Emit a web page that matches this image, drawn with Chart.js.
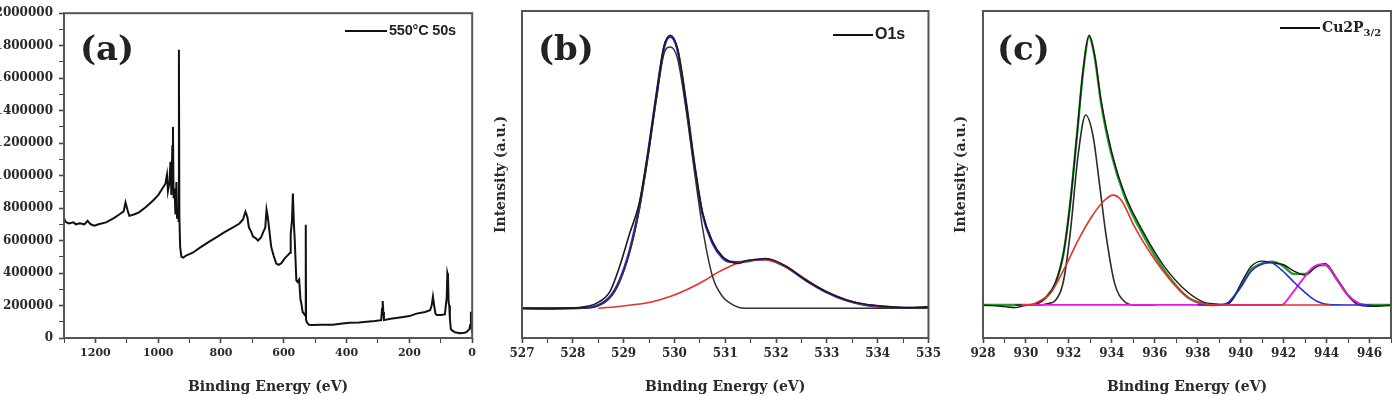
<!DOCTYPE html>
<html>
<head>
<meta charset="utf-8">
<script src="https://cdn.jsdelivr.net/npm/chart.js@4.4.1/dist/chart.umd.min.js"></script>
<style>
body{margin:0;background:#fff;width:1395px;height:396px;overflow:hidden;position:relative}
.panel{position:absolute;top:0;height:396px}
.tag{position:absolute;font:bold 34px 'DejaVu Serif',serif;color:#222;line-height:1}
.leg{position:absolute;font-weight:bold;color:#222;white-space:nowrap;line-height:1}
.leg i{display:inline-block;width:42px;height:2px;background:#111;vertical-align:middle;margin-right:2px}
</style>
</head>
<body>
<div class="panel" style="left:0;width:480px"><canvas id="survey"></canvas></div>
<div class="panel" style="left:480px;width:465px"><canvas id="o1s"></canvas></div>
<div class="panel" style="left:935px;width:460px"><canvas id="cu2p"></canvas></div>

<div class="tag" style="left:80px;top:31px">(a)</div>
<div class="tag" style="left:538px;top:31px">(b)</div>
<div class="tag" style="left:997px;top:31px">(c)</div>

<div class="leg" style="left:345px;top:22px;font:bold 14.5px 'Liberation Sans',sans-serif;letter-spacing:-0.2px"><i></i>550°C 50s</div>
<div class="leg" style="left:833px;top:25px;font:bold 16px 'Liberation Sans',sans-serif"><i style="width:40px"></i>O1s</div>
<div class="leg" style="left:1280px;top:19px;font:bold 14px 'DejaVu Serif',serif"><i style="width:40px"></i>Cu2P<sub style="font-size:10px">3/2</sub></div>

<script>
// (a) survey spectrum, binding energy (eV) vs counts
const surveyE = [1300,1295,1285,1270,1262,1250,1235,1225,1215,1203,1190,1166,1140,1123,1110,1104,1098,1092,1075,1060,1040,1017,1000,985,977,972,969,964,961,958,955,953,951,948,945,942,940,937,935,934,932.5,930,926,920,911,890,868,840,815,790,763,741,730,722,716,711,704,698,690,682,672,666,659,655,651,647,640,632,624,616,608,597,587,580,578,574,571,568,565,560,556,551,547,544,540,536,533,531,530,529,526,520,510,480,443,420,390,360,336,310,290,287,285,283,281,260,230,200,177,150,134,129,125,121,117,113,100,87,81,79,77,75,73,71,68,65,55,39,25,18,9,6,4,2,0];
const surveyI = [740000,715000,705000,712000,700000,706000,700000,722000,700000,692000,700000,712000,740000,762000,780000,835000,790000,752000,762000,775000,805000,845000,880000,925000,950000,1005000,905000,960000,1085000,880000,1180000,1300000,860000,920000,760000,960000,740000,800000,720000,1775000,740000,560000,500000,495000,508000,525000,555000,590000,620000,650000,680000,705000,730000,778000,745000,680000,655000,625000,615000,600000,620000,650000,680000,790000,745000,680000,560000,505000,458000,450000,460000,490000,510000,525000,640000,720000,890000,710000,600000,355000,345000,360000,240000,212000,160000,151000,140000,140000,697000,110000,95000,82000,80000,82000,82000,88000,94000,96000,100000,105000,110000,180000,228000,160000,110000,118000,126000,135000,150000,160000,171000,200000,255000,200000,150000,141000,142000,145000,250000,398000,380000,220000,200000,120000,55000,48000,35000,30000,32000,36000,55000,80000,162000,60000,35000];
const surveyYTicks = [0,200000,400000,600000,800000,1000000,1200000,1400000,1600000,1800000,2000000];

// (b) O1s, intensity in arbitrary units
const oE      = [527.0,527.5,528.0,528.2,528.46,528.73,528.92,529.12,529.31,529.48,529.64,529.8,529.92,530.06,530.23,530.39,530.55,530.75,530.95,531.08,531.27,531.4,531.6,531.8,532.19,532.58,532.97,533.37,533.76,534.15,534.6,535.0];
const oData   = [9.0,8.9,9.2,9.5,10.6,14.2,21.8,32.0,41.4,56.5,73.8,89.5,92.6,88.5,72.0,53.5,38.5,29.5,24.8,23.5,22.8,23.6,24.0,24.3,22.0,17.8,14.3,11.7,10.3,9.7,9.3,9.6];
const oFit    = [9.1,9.1,9.1,9.2,9.8,12.6,17.7,26.9,40.2,56.5,73.8,89.1,92.1,88.1,71.8,53.4,38.1,29.0,24.4,23.3,23.2,23.4,23.9,24.1,21.8,17.7,14.2,11.6,10.1,9.5,9.2,9.2];
const oLatt   = [9.1,9.1,9.1,9.15,9.6,12.2,17.1,26.2,39.3,55.3,72.4,87.2,89.0,85.5,69.7,51.4,34.0,18.8,12.6,10.8,9.3,9.1,9.1,9.1,9.1,9.1,9.1,9.1,9.1,9.1,9.1,9.1];
const oHydE   = [528.5,529.0,529.57,529.9,530.23,530.55,530.88,531.08,531.27,531.5,531.7,532.0,532.4,532.8,533.2,533.6,534.0];
const oHyd    = [9.1,9.8,11.1,12.6,14.7,17.2,20.3,21.8,23.0,23.7,24.0,23.2,19.9,15.7,12.7,10.7,9.6];

// (c) Cu2p3/2, intensity in arbitrary units
const cuE     = [928,928.5,929,929.5,930,930.5,930.9,931.37,931.75,932.06,932.37,932.67,932.94,933.2,933.5,933.97,934.6,935.5,936.43,937.5,938.26,938.8,939.3,939.6,940.0,940.48,941.0,941.48,942.0,942.47,943.0,943.47,943.93,944.5,945.0,945.46,946.0,946.5,947.0];
const cuData  = [10.0,9.9,9.6,9.3,10.0,10.4,12.3,16.8,26.0,41.0,61.8,82.3,92.6,86.5,72.5,57.5,44.0,32.0,22.0,14.2,11.0,10.4,10.2,11.5,16.5,21.8,23.5,23.0,22.4,20.5,19.2,21.5,22.8,18.0,13.0,10.2,9.7,9.8,10.0];
const cuFit   = [10.1,10.1,10.1,10.1,10.1,10.5,12.1,16.7,25.9,41.2,61.6,82.0,92.1,86.0,71.8,56.5,43.2,31.0,20.8,12.6,10.4,10.1,10.2,12.0,15.7,20.8,22.8,23.3,21.9,19.6,19.6,21.9,22.3,17.7,13.1,10.6,10.1,10.1,10.1];
const cuOxE   = [929.5,930.6,931.0,931.37,931.75,932.06,932.44,932.78,933.13,933.44,933.74,934.13,934.6,935.06,936.0];
const cuOx    = [10.1,10.1,10.5,11.5,17.5,32.0,56.5,68.2,61.6,46.3,31.0,16.7,11.1,10.1,10.1];
const cuHydE  = [929.8,930.15,930.6,931.14,931.83,932.44,933.06,933.67,934.05,934.43,935.06,935.8,936.73,937.5,938.2,938.8,944.2];
const cuHyd   = [10.1,10.1,11.2,13.7,21.8,30.0,37.1,42.2,43.7,42.2,34.0,25.9,17.7,12.6,10.6,10.1,10.1];
const satAE   = [938.0,939.0,939.5,940.0,940.5,941.0,941.4,941.9,942.4,942.86,943.3,943.6,944.1,945.0,946.1];
const satA    = [10.1,10.1,11.3,15.5,20.5,22.6,23.0,20.8,17.6,14.7,12.3,11.1,10.2,10.1,10.1];
const satBE   = [929.8,941.9,942.4,942.86,943.32,943.78,944.0,944.5,945.0,945.5,945.8];
const satB    = [10.1,10.1,13.7,17.7,21.3,22.6,22.3,17.7,13.0,10.6,10.1];

const pts = (xs, ys) => xs.map((x, i) => ({x: x, y: ys[i]}));

const frame = {
  id: 'frame',
  afterDatasetsDraw(chart) {
    const {ctx, chartArea: a} = chart;
    ctx.save();
    ctx.strokeStyle = '#555';
    ctx.lineWidth = 2;
    ctx.strokeRect(a.left, a.top, a.right - a.left, a.bottom - a.top);
    ctx.restore();
  }
};

const tickFont = size => ({family: "'DejaVu Serif', serif", weight: 'bold', size: size});
const titleFont = {family: "'DejaVu Serif', serif", weight: 'bold', size: 14};

function line(data, color, width) {
  return {data: data, borderColor: color, borderWidth: width, pointRadius: 0, fill: false,
          cubicInterpolationMode: 'monotone'};
}

function xAxis(min, max, step, labelEvery, fontSize, reverse) {
  return {
    type: 'linear', min: min, max: max, reverse: !!reverse,
    ticks: {stepSize: step, autoSkip: false, maxRotation: 0, color: '#2a2a2a', font: tickFont(fontSize), padding: 4,
            callback: v => (Math.abs(v / labelEvery - Math.round(v / labelEvery)) < 1e-6 ? String(v) : '')},
    grid: {drawOnChartArea: false, drawTicks: true, tickLength: 5, tickColor: '#444',
           tickWidth: c => (c.tick && Math.abs(c.tick.value / labelEvery - Math.round(c.tick.value / labelEvery)) < 1e-6 ? 1.6 : 1)},
    border: {display: false},
    title: {display: true, text: 'Binding Energy (eV)', color: '#2a2a2a', font: titleFont, padding: {top: 0, bottom: 0}},
    afterFit(s) { s.height = 58; }
  };
}

function hiddenY(width, titlePad) {
  return {
    min: 0, max: 100,
    ticks: {display: false},
    grid: {display: false},
    border: {display: false},
    title: {display: true, text: 'Intensity (a.u.)', color: '#2a2a2a', font: titleFont, padding: {top: titlePad, bottom: 0}},
    afterFit(s) { s.width = width; }
  };
}

const common = {
  responsive: true,
  maintainAspectRatio: false,
  animation: false,
  events: [],
  plugins: {legend: {display: false}, tooltip: {enabled: false}}
};

new Chart(document.getElementById('survey'), {
  type: 'line',
  data: {datasets: [{data: pts(surveyE, surveyI), borderColor: '#111', borderWidth: 2, pointRadius: 0, fill: false, tension: 0}]},
  options: Object.assign({}, common, {
    layout: {padding: {top: 11, right: 7, left: 0, bottom: 0}},
    scales: {
      x: xAxis(0, 1300, 100, 200, 11, true),
      y: {
        min: 0, max: 2000000,
        ticks: {stepSize: 100000, autoSkip: false, color: '#2a2a2a', font: tickFont(12), padding: 6,
                callback: v => (surveyYTicks.includes(v) ? String(v) : '')},
        grid: {drawOnChartArea: false, drawTicks: true, tickLength: 5, tickColor: '#444',
               tickWidth: c => (c.tick && surveyYTicks.includes(c.tick.value) ? 1.6 : 1)},
        border: {display: false},
        afterFit(s) { s.width = 64; }
      }
    }
  }),
  plugins: [frame]
});

new Chart(document.getElementById('o1s'), {
  type: 'line',
  data: {datasets: [
    line(pts(oE, oData), '#1a1a1a', 1.6),
    line(pts(oE, oLatt), '#333', 1.5),
    line(pts(oHydE, oHyd), '#e8302a', 1.6),
    line(pts(oE, oFit), '#2a2ad8', 2.4)
  ]},
  options: Object.assign({}, common, {
    layout: {padding: {top: 11, right: 15, left: 0, bottom: 0}},
    scales: {x: xAxis(527, 535, 0.5, 1, 12), y: hiddenY(42, 13)}
  }),
  plugins: [frame]
});

new Chart(document.getElementById('cu2p'), {
  type: 'line',
  data: {datasets: [
    line(pts(cuHydE, cuHyd), '#e8302a', 1.6),
    line(pts(satAE, satA), '#2a2ae0', 1.6),
    line(pts(satBE, satB), '#f012f0', 1.8),
    line(pts(cuOxE, cuOx), '#2a2a2a', 1.6),
    line(pts(cuE, cuData), '#1a1a1a', 1.4),
    line(pts(cuE, cuFit), '#23a02a', 2.4)
  ]},
  options: Object.assign({}, common, {
    layout: {padding: {top: 11, right: 2, left: 0, bottom: 0}},
    scales: {x: xAxis(928, 947, 1, 2, 12), y: hiddenY(48, 18)}
  }),
  plugins: [frame]
});
</script>
</body>
</html>
